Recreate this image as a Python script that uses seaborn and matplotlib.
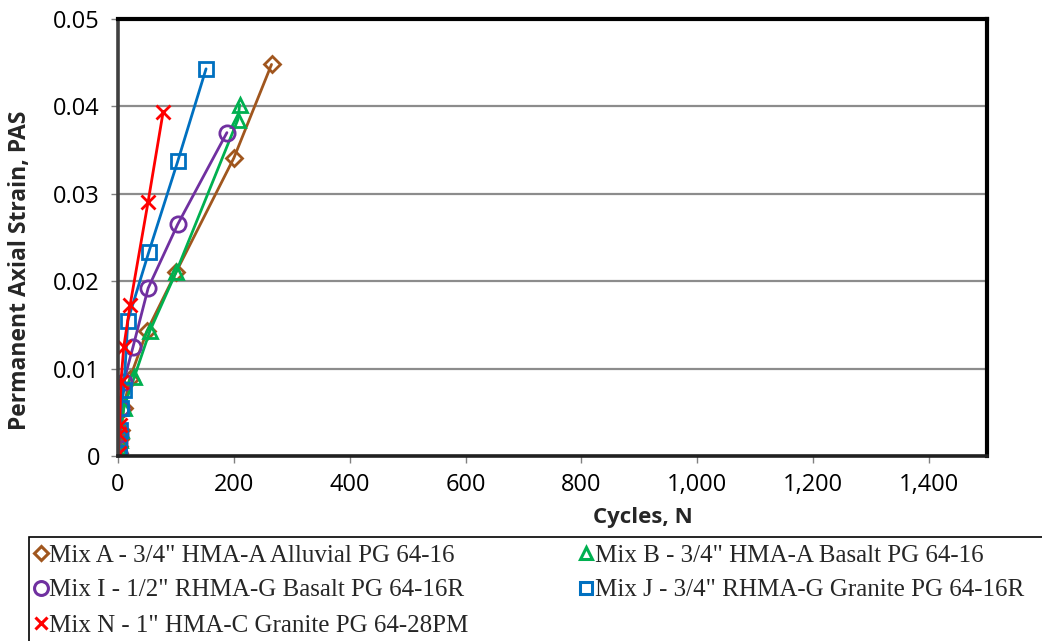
import matplotlib
matplotlib.use("Agg")
import matplotlib.pyplot as plt
from matplotlib.patches import Rectangle
from matplotlib.ticker import FuncFormatter, MultipleLocator
import seaborn as sns
import pandas as pd

# Permanent axial strain vs. load cycles for each mix
mix_labels = [
    "Mix A - 3/4\" HMA-A Alluvial PG 64-16",
    "Mix B - 3/4\" HMA-A Basalt PG 64-16",
    "Mix I - 1/2\" RHMA-G Basalt PG 64-16R",
    "Mix J - 3/4\" RHMA-G Granite PG 64-16R",
    "Mix N - 1\" HMA-C Granite PG 64-28PM",
]

cycles_a = [1, 2, 3, 5, 10, 20, 50, 100, 200, 265]
strain_a = [0.0003, 0.0012, 0.002, 0.003, 0.0055, 0.0088, 0.0143, 0.021, 0.0341, 0.0448]

cycles_b = [1, 2, 3, 5, 10, 28, 55, 100, 207, 210]
strain_b = [0.0002, 0.001, 0.0018, 0.003, 0.0055, 0.009, 0.0143, 0.021, 0.0385, 0.0402]

cycles_i = [1, 2, 3, 5, 10, 26, 52, 103, 188]
strain_i = [0.0003, 0.0015, 0.0025, 0.0055, 0.0085, 0.0125, 0.0192, 0.0265, 0.037]

cycles_j = [1, 2, 3, 5, 10, 17, 53, 103, 152]
strain_j = [0.0003, 0.002, 0.003, 0.0055, 0.0075, 0.0155, 0.0233, 0.0337, 0.0443]

cycles_n = [1, 2, 3, 5, 10, 21, 52, 78]
strain_n = [0.0003, 0.0025, 0.0035, 0.0085, 0.0125, 0.0173, 0.0291, 0.0394]

colors = ["#A0561E", "#00B050", "#7030A0", "#0070C0", "#FF0000"]
markers = ["D", "^", "o", "s", "x"]
marker_sizes = [8, 10, 11, 10, 10]

series = [
    (cycles_a, strain_a),
    (cycles_b, strain_b),
    (cycles_i, strain_i),
    (cycles_j, strain_j),
    (cycles_n, strain_n),
]

sns.set_theme(style="white")
plt.rcParams["font.family"] = ["Open Sans", "DejaVu Sans"]

W, H = 1042, 641
fig = plt.figure(figsize=(W / 100, H / 100), dpi=100)
x0, x1, y_top, y_bot = 118, 987, 19, 456
ax = fig.add_axes([x0 / W, 1 - y_bot / H, (x1 - x0) / W, (y_bot - y_top) / H])

for label, (x, y), c, m, ms in zip(mix_labels, series, colors, markers, marker_sizes):
    df = pd.DataFrame({"Cycles": x, "PAS": y})
    sns.lineplot(
        data=df, x="Cycles", y="PAS", ax=ax, sort=False, color=c,
        linewidth=2.0, marker=m, markersize=ms,
        markerfacecolor="none", markeredgecolor=c, markeredgewidth=2.0,
        label=label, legend=False,
    )

ax.set_xlim(0, 1500)
ax.set_ylim(0, 0.05)
ax.xaxis.set_major_locator(MultipleLocator(200))
ax.yaxis.set_major_locator(MultipleLocator(0.01))
ax.xaxis.set_major_formatter(FuncFormatter(lambda v, p: f"{int(v):,}" if v <= 1400 else ""))
ax.yaxis.set_major_formatter(FuncFormatter(lambda v, p: "0" if v == 0 else f"{v:.2f}"))

ax.grid(axis="y", color="#8c8c8c", linewidth=1.6)
ax.grid(axis="x", visible=False)
ax.set_axisbelow(True)

for side in ["top", "right"]:
    ax.spines[side].set_color("black")
    ax.spines[side].set_linewidth(3.0)
ax.spines["left"].set_color("#404040")
ax.spines["left"].set_linewidth(2.6)
ax.spines["bottom"].set_color("#202020")
ax.spines["bottom"].set_linewidth(2.6)

ax.tick_params(axis="both", which="major", direction="out", length=5, width=1,
               color="#808080", labelsize=17, labelcolor="black")
ax.tick_params(axis="x", bottom=True, pad=7)
ax.tick_params(axis="y", left=True, pad=8)

ax.set_xlabel("Cycles, N", fontsize=16, fontweight="bold")
ax.xaxis.set_label_coords((643 - x0) / (x1 - x0), (y_bot - 518) / (y_bot - y_top))
ax.xaxis.label.set_va("center")
ax.set_ylabel("Permanent Axial Strain, PAS", fontsize=16.5, fontweight="bold")
ax.yaxis.set_label_coords((20 - x0) / (x1 - x0), (y_bot - 270) / (y_bot - y_top))
ax.yaxis.label.set_va("center")

# Legend box below the plot, running off the right and bottom edges
fig.patches.append(Rectangle((29 / W, -0.05), 1.05, (H - 537) / H + 0.05,
                             transform=fig.transFigure, fill=False,
                             edgecolor="black", linewidth=1.2))

legend_handles = []
for c, m, ms in zip(colors, markers, marker_sizes):
    h, = ax.plot([], [], linestyle="none", marker=m, markersize=ms - 1,
                 markerfacecolor="none", markeredgecolor=c, markeredgewidth=2.2)
    legend_handles.append(h)

order = [0, 2, 4, 1, 3]
fig.legend([legend_handles[i] for i in order], [mix_labels[i] for i in order],
           loc="upper left", bbox_to_anchor=(28 / W, 1 - 539 / H),
           ncol=2, frameon=False, prop={"family": "Liberation Serif", "size": 18},
           handlelength=0.6, handletextpad=0.05, columnspacing=4.4,
           labelspacing=0.5, borderaxespad=0, borderpad=0.2)

fig.savefig("out.png", dpi=100)
